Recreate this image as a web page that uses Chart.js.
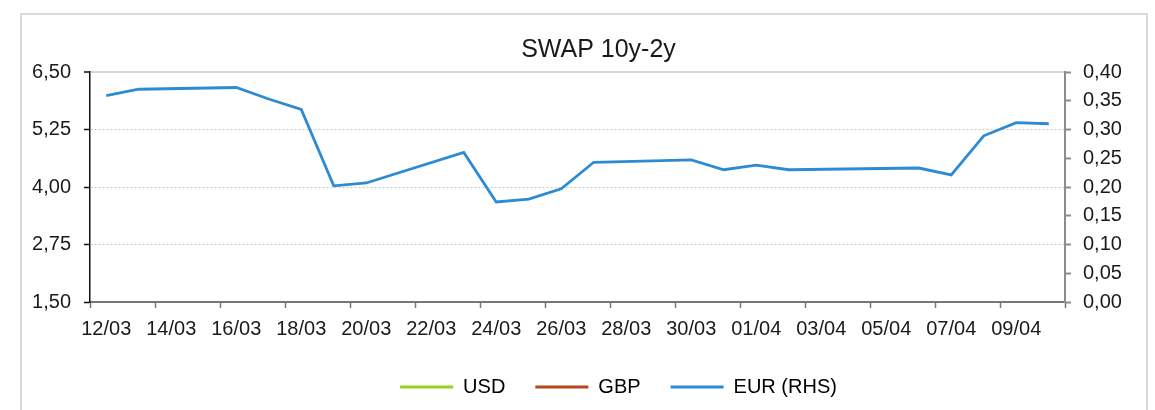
<!DOCTYPE html>
<html lang="en">
<head>
    <meta charset="UTF-8">
    <script src="https://cdn.jsdelivr.net/npm/chart.js"></script>
    <title>SWAP 10y-2y</title>
    <style>
        body { margin: 0; background: #ffffff; }
        #wrap { position: relative; width: 1155px; height: 410px; overflow: hidden; }
        #frame {
            position: absolute; left: 20px; top: 13px; width: 1124px; height: 420px;
            border: 2px solid #dadada; pointer-events: none;
        }
    </style>
</head>
<body>

<div id="wrap">
    <canvas id="myChart" width="1155" height="410"></canvas>
    <div id="frame"></div>
</div>

<script>

    // x axis tick labels (one every 2 days, last tick at right edge has none)
    const xTickLabels = ['12/03', '14/03', '16/03', '18/03', '20/03', '22/03', '24/03', '26/03',
        '28/03', '30/03', '01/04', '03/04', '05/04', '07/04', '09/04', ''];
    const leftTicks = [1.50, 2.75, 4.00, 5.25, 6.50];
    const rightTicks = [0.00, 0.05, 0.10, 0.15, 0.20, 0.25, 0.30, 0.35, 0.40];

    // series (business days only)
    const dates = ['12/03', '13/03', '16/03', '17/03', '18/03', '19/03', '20/03', '23/03',
        '24/03', '25/03', '26/03', '27/03', '30/03', '31/03', '01/04', '02/04', '06/04',
        '07/04', '08/04', '09/04', '10/04'];
    const usd = [];
    const gbp = [];
    const eur = [0.359, 0.370, 0.373, 0.353, 0.335, 0.202, 0.207, 0.260,
        0.174, 0.179, 0.197, 0.243, 0.247, 0.230, 0.238, 0.230, 0.233,
        0.221, 0.289, 0.312, 0.310];

    const start = new Date(2020, 2, 12);
    function dayIndex(s) {
        const [d, m] = s.split('/').map(Number);
        return Math.round((new Date(2020, m - 1, d) - start) / 86400000);
    }
    const toPoints = vals => vals.map((v, i) => ({x: dayIndex(dates[i]), y: v}));
    const comma = v => v.toFixed(2).replace('.', ',');

    const FONT = "'Liberation Sans', Arial, sans-serif";
    Chart.defaults.font.family = FONT;
    Chart.defaults.color = '#1a1a1a';

    // title and legend are not centred on the canvas in the original
    const boxShift = {
        id: 'boxShift',
        afterUpdate: (chart) => {
            chart.titleBlock.left += 21;
            chart.titleBlock.right += 21;
            chart.legend.left += 41;
            chart.legend.right += 41;
        }
    };

    const ctx = document.getElementById('myChart').getContext('2d');

    const chart = new Chart(ctx, {
        type: 'line',
        data: {
            datasets: [{
                label: 'USD',
                data: toPoints(usd),
                borderColor: '#9bd11b',
                backgroundColor: '#9bd11b',
                yAxisID: 'y',
            }, {
                label: 'GBP',
                data: toPoints(gbp),
                borderColor: '#b5461f',
                backgroundColor: '#b5461f',
                yAxisID: 'y',
            }, {
                label: 'EUR (RHS)',
                data: toPoints(eur),
                borderColor: '#2d8bd3',
                backgroundColor: '#2d8bd3',
                yAxisID: 'y1',
            }]
        },
        options: {
            responsive: false,
            animation: false,
            elements: {
                point: { radius: 0 },
                line: { borderWidth: 2.8, tension: 0 }
            },
            layout: {
                padding: { top: 35, left: 0, right: 0, bottom: 3 }
            },
            plugins: {
                title: {
                    display: true,
                    text: 'SWAP 10y-2y',
                    color: '#1a1a1a',
                    font: { size: 25, weight: 'normal' },
                    padding: { top: 0, bottom: 7 }
                },
                legend: {
                    position: 'bottom',
                    labels: {
                        boxWidth: 53,
                        boxHeight: 3,
                        padding: 30,
                        font: { size: 20 },
                        color: '#1a1a1a',
                        generateLabels: (c) => c.data.datasets.map((ds, i) => ({
                            text: ds.label,
                            fillStyle: ds.borderColor,
                            strokeStyle: ds.borderColor,
                            lineWidth: 0,
                            datasetIndex: i
                        }))
                    }
                },
                tooltip: { enabled: false }
            },
            scales: {
                x: {
                    type: 'linear',
                    min: -0.5,
                    max: 29.5,
                    afterBuildTicks: s => {
                        s.ticks = xTickLabels.map((l, i) => ({value: -0.5 + 2 * i}));
                    },
                    afterFit: s => { s.height = 45; },
                    ticks: {
                        callback: (v, i) => xTickLabels[i],
                        labelOffset: 16.25,
                        autoSkip: false,
                        maxRotation: 0,
                        padding: 9,
                        font: { size: 20 },
                        color: '#1a1a1a'
                    },
                    grid: {
                        drawOnChartArea: false,
                        drawTicks: true,
                        tickLength: 6,
                        tickColor: '#777777',
                        tickWidth: 1.5
                    },
                    border: { color: '#777777', width: 2 }
                },
                y: {
                    position: 'left',
                    min: 1.5,
                    max: 6.5,
                    afterBuildTicks: s => {
                        s.ticks = leftTicks.map(v => ({value: v}));
                    },
                    afterFit: s => { s.width = 90; },
                    ticks: {
                        callback: v => comma(v),
                        padding: 13,
                        font: { size: 20 },
                        color: '#1a1a1a'
                    },
                    grid: {
                        color: c => c.tick && c.tick.value === 1.5 ? 'rgba(0,0,0,0)'
                            : (c.tick && c.tick.value === 6.5 ? '#d6d6d6' : '#c8c8c8'),
                        lineWidth: c => c.tick && c.tick.value === 6.5 ? 2 : 1,
                        tickLength: 6,
                        tickColor: '#111111',
                        tickWidth: 1.5
                    },
                    border: {
                        color: '#111111',
                        width: 1.5,
                        dash: c => c.tick && c.tick.value === 6.5 ? [] : [2, 2]
                    }
                },
                y1: {
                    position: 'right',
                    min: 0,
                    max: 0.4,
                    afterBuildTicks: s => {
                        s.ticks = rightTicks.map(v => ({value: v}));
                    },
                    afterFit: s => { s.width = 90; },
                    ticks: {
                        callback: v => comma(v),
                        padding: 12,
                        font: { size: 20 },
                        color: '#1a1a1a'
                    },
                    grid: {
                        drawOnChartArea: false,
                        tickLength: 6,
                        tickColor: '#8c8c8c',
                        tickWidth: 2
                    },
                    border: { color: '#8c8c8c', width: 2 }
                }
            }
        },
        plugins: [boxShift],
    });

</script>

</body>
</html>
